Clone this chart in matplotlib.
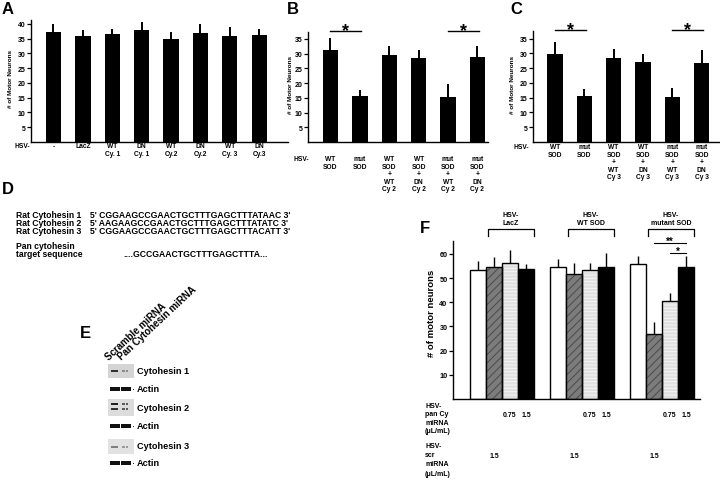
import matplotlib
matplotlib.use('Agg')
import matplotlib.pyplot as plt
from matplotlib.transforms import blended_transform_factory
from matplotlib.patches import Rectangle
import numpy as np

W, H = 720, 481
plt.rcParams['font.family'] = ['Liberation Sans', 'DejaVu Sans']
plt.rcParams['font.weight'] = 'bold'
plt.rcParams['hatch.linewidth'] = 0.7

# ---------------- data ----------------
a_labels = ['-', 'LacZ', 'WT\nCy. 1', 'DN\nCy. 1', 'WT\nCy.2', 'DN\nCy.2', 'WT\nCy. 3', 'DN\nCy.3']
a_values = [37.2, 36.0, 36.5, 38.0, 35.0, 37.0, 36.0, 36.2]
a_errors = [2.9, 1.8, 1.7, 2.7, 2.4, 3.0, 3.0, 2.0]

b_labels = ['WT\nSOD', 'mut\nSOD', 'WT\nSOD\n+\nWT\nCy 2', 'WT\nSOD\n+\nDN\nCy 2',
            'mut\nSOD\n+\nWT\nCy 2', 'mut\nSOD\n+\nDN\nCy 2']
b_values = [31.1, 15.6, 29.5, 28.4, 15.4, 28.8]
b_errors = [4.2, 2.1, 2.9, 2.9, 4.3, 3.6]

c_labels = ['WT\nSOD', 'mut\nSOD', 'WT\nSOD\n+\nWT\nCy 3', 'WT\nSOD\n+\nDN\nCy 3',
            'mut\nSOD\n+\nWT\nCy 3', 'mut\nSOD\n+\nDN\nCy 3']
c_values = [29.8, 15.5, 28.6, 27.2, 15.3, 26.8]
c_errors = [4.2, 2.3, 2.8, 2.6, 3.0, 4.2]

sig_pairs = [(0, 1), (4, 5)]

d_names = ['Rat Cytohesin 1', 'Rat Cytohesin 2', 'Rat Cytohesin 3']
d_seqs = ["5' CGGAAGCCGAACTGCTTTGAGCTTTATAAC 3'",
          "5' AAGAAGCCGAACTGCTTTGAGCTTTATATC 3'",
          "5' CGGAAGCCGAACTGCTTTGAGCTTTACATT 3'"]
d_target = '....GCCGAACTGCTTTGAGCTTTA...'

e_lanes = ['Scramble miRNA', 'Pan Cytohesin miRNA']
e_rows = ['Cytohesin 1', 'Actin', 'Cytohesin 2', 'Actin', 'Cytohesin 3', 'Actin']

f_groups = ['HSV-\nLacZ', 'HSV-\nWT SOD', 'HSV-\nmutant SOD']
f_ctrl = [53.4, 54.7, 55.9]
f_ctrl_err = [3.8, 3.1, 3.4]
f_scr = [54.7, 51.7, 26.8]
f_scr_err = [3.8, 4.4, 5.2]
f_pan_low = [56.4, 53.5, 40.6]
f_pan_low_err = [5.3, 2.6, 3.1]
f_pan_high = [53.8, 54.5, 54.7]
f_pan_high_err = [1.8, 6.0, 4.2]
f_pan_doses = ['', '', '0.75', '1.5']
f_scr_doses = ['', '1.5', '', '']

fig = plt.figure(figsize=(W / 100, H / 100), dpi=100)


def px_axes(l, t, r, b):
    return fig.add_axes([l / W, 1 - b / H, (r - l) / W, (b - t) / H])


def ftext(x, y, s, **kw):
    return fig.text(x / W, 1 - y / H, s, **kw)


def style_axes(ax, ticks, fs=5):
    for s in ['top', 'right']:
        ax.spines[s].set_visible(False)
    for s in ['left', 'bottom']:
        ax.spines[s].set_linewidth(1.0)
    ax.set_xticks([])
    ax.set_yticks(ticks)
    ax.tick_params(axis='y', direction='out', length=3, width=0.9, pad=1, labelsize=fs)
    for t in ax.get_yticklabels():
        t.set_fontweight('bold')


def bar_panel(rect, labels, values, errors, ylim, ticks, xlim, label_top, hsv_x, ylabel_x):
    ax = px_axes(*rect)
    x = np.arange(len(values))
    ax.bar(x, values, width=0.52, color='black', zorder=2)
    ax.errorbar(x, values, yerr=[np.zeros(len(errors)), errors], fmt='none',
                ecolor='black', elinewidth=1.4, capsize=0, zorder=1)
    ax.set_xlim(*xlim)
    ax.set_ylim(*ylim)
    style_axes(ax, ticks)
    tr = blended_transform_factory(ax.transData, fig.transFigure)
    for xi, lab in zip(x, labels):
        ax.text(xi, 1 - label_top / H, lab, transform=tr, ha='center', va='top',
                fontsize=4.8, linespacing=1.12)
    ftext(hsv_x, label_top, 'HSV-', ha='center', va='top', fontsize=4.8)
    ftext(ylabel_x, (rect[1] + rect[3]) / 2 - 3, '# of Motor Neurons', rotation=90,
          ha='center', va='center', fontsize=4.6)
    return ax


# ---------------- A ----------------
axA = bar_panel((31, 21, 288, 143), a_labels, a_values, a_errors, (0, 41.3),
                range(5, 41, 5), (-0.765, 7.98), 143.5, 22, 10.5)

# ---------------- B, C ----------------
axB = bar_panel((308, 33, 488, 143), b_labels, b_values, b_errors, (0, 37.3),
                range(5, 36, 5), (-0.765, 5.36), 156, 301, 291)
axC = bar_panel((533, 32, 720, 143), c_labels, c_values, c_errors, (0, 37.6),
                range(5, 36, 5), (-0.75, 5.63), 144, 521, 513)

for ax in (axB, axC):
    top = ax.get_ylim()[1]
    for i, j in sig_pairs:
        ax.plot([i, j + 0.05], [top + 0.2, top + 0.2], color='black', lw=1.0, clip_on=False)
        ax.text((i + j + 0.05) / 2, top - 0.9, '*', ha='center', va='baseline',
                fontsize=13, clip_on=False)

# panel letters
for s, x, y in [('A', 2, 9), ('B', 287, 9), ('C', 510, 9), ('D', 2, 190),
                ('E', 80, 334), ('F', 420, 229)]:
    ftext(x, y, s, ha='left', va='center', fontsize=12)

# ---------------- D ----------------
for k, (nm, sq) in enumerate(zip(d_names, d_seqs)):
    ftext(16, 215 + 8 * k, nm, ha='left', va='center', fontsize=6.2)
    ftext(90, 215 + 8 * k, sq, ha='left', va='center', fontsize=6.2)
ftext(16, 247, 'Pan cytohesin', ha='left', va='center', fontsize=6.2)
ftext(16, 255, 'target sequence', ha='left', va='center', fontsize=6.2)
ftext(123, 255, d_target, ha='left', va='center', fontsize=6.2)

# ---------------- E ----------------
axE = px_axes(100, 355, 137, 475)
axE.set_xlim(100, 137)
axE.set_ylim(475, 355)
axE.axis('off')
lane_x = [110.5, 121.5]
boxes = {0: (365, 379, '#d4d4d4'), 2: (400, 417, '#dcdcdc'), 4: (440, 455, '#e2e2e2')}
bands = {0: [(370.5, 2.0, '#303030'), ],
         2: [(404, 2.2, '#202020'), (408.5, 2.0, '#303030')],
         4: [(446.5, 2.0, '#808080')]}
lane2_col = {0: '#8a8a8a', 2: '#5a5a5a', 4: '#9a9a9a'}
actin_y = {1: 390, 3: 427, 5: 464}
for r, (y0, y1, col) in boxes.items():
    axE.add_patch(Rectangle((108, y0), 26, y1 - y0, color=col, lw=0))
    for yb, hb, c in bands[r]:
        axE.add_patch(Rectangle((lane_x[0], yb), 7, hb, color=c, lw=0))
        axE.add_patch(Rectangle((lane_x[1] + 0.5, yb), 2.6, hb, color=lane2_col[r], lw=0))
        axE.add_patch(Rectangle((lane_x[1] + 4.0, yb), 2.6, hb, color=lane2_col[r], lw=0))
for r, yc in actin_y.items():
    for lx in lane_x:
        axE.add_patch(Rectangle((lx - 0.5, yc - 1.8), 10, 3.6, color='#111111', lw=0))
    axE.add_patch(Rectangle((132.5, yc - 0.5), 1.2, 1.0, color='#333333', lw=0))
row_y = [372, 390, 409, 427, 447, 464]
for lab, yc in zip(e_rows, row_y):
    ftext(137, yc, lab, ha='left', va='center', fontsize=6.6)
for lab, xs in zip(e_lanes, [109, 122]):
    ftext(xs, 361, lab, ha='left', va='baseline', rotation=43,
          rotation_mode='anchor', fontsize=7)

# ---------------- F ----------------
axF = px_axes(453, 242, 700, 400)
axF.set_xlim(-1.5625, 13.875)
axF.set_ylim(0, 65.3)
style_axes(axF, range(10, 61, 10), fs=5.2)
g = np.arange(len(f_groups)) * 5
series = [(f_ctrl, f_ctrl_err, 'white', None, 'black'),
          (f_scr, f_scr_err, '#7c7c7c', '////', '#4a4a4a'),
          (f_pan_low, f_pan_low_err, '#e0e0e0', '-----', '#f6f6f6'),
          (f_pan_high, f_pan_high_err, 'black', None, 'black')]
for k, (vals, errs, fc, hatch, hc) in enumerate(series):
    xk = g + k
    axF.errorbar(xk, vals, yerr=[np.zeros(len(errs)), errs], fmt='none',
                 ecolor='black', elinewidth=1.0, capsize=0, zorder=1)
    if hatch:
        axF.bar(xk, vals, width=1.0, color=fc, hatch=hatch, edgecolor=hc, lw=0, zorder=2)
        axF.bar(xk, vals, width=1.0, fill=False, edgecolor='black', lw=1.0, zorder=3)
    else:
        axF.bar(xk, vals, width=1.0, color=fc, edgecolor='black', lw=1.0, zorder=2)

# header brackets
for gi, name in zip(g, f_groups):
    xl, xr = gi + 0.6, gi + 3.5
    axF.plot([xl, xl, xr, xr], [67.4, 70.2, 70.2, 67.4], color='black', lw=0.9, clip_on=False)
    axF.text((xl + xr) / 2, 71.3, name, ha='center', va='bottom', fontsize=5,
             linespacing=1.2, clip_on=False)

# significance in mutant SOD group
gm = g[2]
axF.plot([gm + 1, gm + 3], [64.5, 64.5], color='black', lw=0.8, clip_on=False)
axF.text(gm + 2, 64.0, '**', ha='center', va='baseline', fontsize=7, clip_on=False)
axF.plot([gm + 2, gm + 3], [60.3, 60.3], color='black', lw=0.8, clip_on=False)
axF.text(gm + 2.5, 59.8, '*', ha='center', va='baseline', fontsize=7, clip_on=False)

ftext(431, 313, '# of motor neurons', rotation=90, ha='center', va='center', fontsize=6.8)

trF = blended_transform_factory(axF.transData, fig.transFigure)
ftext(425, 403, 'HSV-\npan Cy\nmiRNA\n(\u03bcL/mL)', ha='left', va='top', fontsize=5,
      linespacing=1.3)
ftext(425, 443, 'HSV-\nscr\nmiRNA\n(\u03bcL/mL)', ha='left', va='top', fontsize=5,
      linespacing=1.45)
for gi in g:
    for k, lab in enumerate(f_pan_doses):
        if lab:
            axF.text(gi + k, 1 - 415.5 / H, lab, transform=trF, ha='center',
                     va='center', fontsize=5)
    for k, lab in enumerate(f_scr_doses):
        if lab:
            axF.text(gi + k, 1 - 456.5 / H, lab, transform=trF, ha='center',
                     va='center', fontsize=5)

fig.savefig('out.png', dpi=100)
